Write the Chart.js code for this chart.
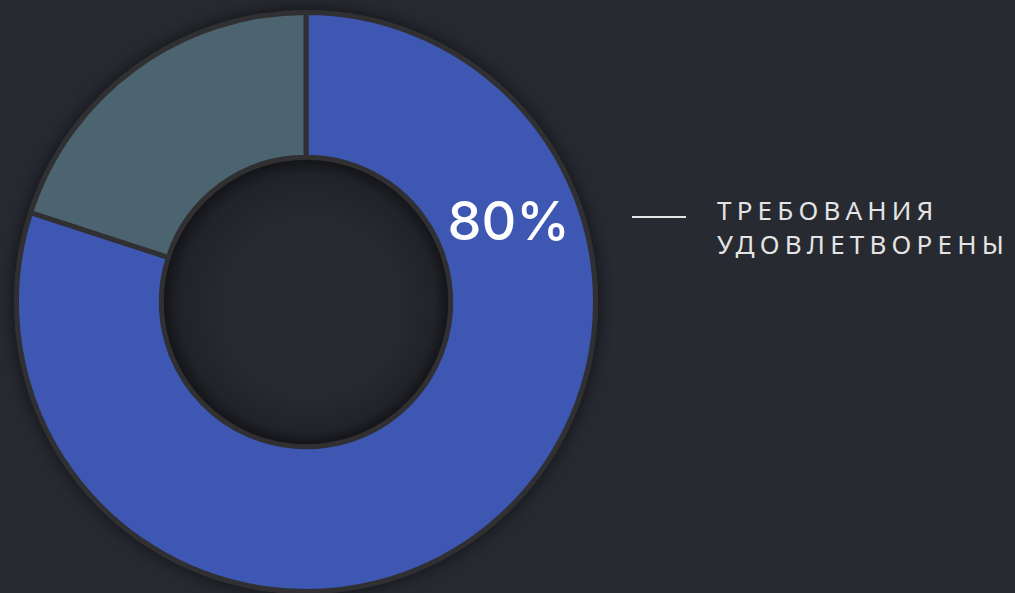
<!DOCTYPE html>
<html>
<head>
<meta charset="utf-8">
<script src="https://cdn.jsdelivr.net/npm/chart.js@4"></script>
<style>
  html, body { margin: 0; padding: 0; background: #272a31; width: 1015px; height: 593px; overflow: hidden; }
  #wrap { position: absolute; left: 0; top: 0; width: 612px; height: 604px; }
  #legend { position: absolute; left: 632px; top: 193px; color: #e4e4e4; font-family: "Noto Sans", sans-serif;
            font-size: 26px; letter-spacing: 5.2px; line-height: 34px; }
  #legend .line { position: absolute; left: 0; top: 23px; width: 54px; height: 2px; background: #e4e4e4; }
  #legend .txt { position: absolute; left: 85px; top: 0; white-space: nowrap; }
</style>
</head>
<body>
<div id="wrap"><canvas id="chart"></canvas></div>
<div id="legend"><div class="line"></div><div class="txt">ТРЕБОВАНИЯ<br>УДОВЛЕТВОРЕНЫ</div></div>
<script>
// значения
const labels = ['Требования удовлетворены', 'Остальное'];
const values = [80, 20];
const colors = ['#3d57b3', '#4b6470'];
const mainLabel = '80%';

const decor = {
  id: 'decor',
  beforeDatasetsDraw(chart) {
    const arc = chart.getDatasetMeta(0).data[0];
    if (!arc) return;
    const { x, y, outerRadius } = arc;
    const ctx = chart.ctx;
    ctx.save();
    ctx.shadowColor = 'rgba(0,0,0,0.6)';
    ctx.shadowBlur = 18;
    ctx.fillStyle = '#303032';
    ctx.beginPath();
    ctx.arc(x, y, outerRadius + 2.5, 0, Math.PI * 2);
    ctx.fill();
    ctx.restore();
  },
  afterDatasetsDraw(chart) {
    const arc = chart.getDatasetMeta(0).data[0];
    if (!arc) return;
    const { x, y, innerRadius, outerRadius } = arc;
    const ctx = chart.ctx;
    ctx.save();
    // тень внутри отверстия
    const r = innerRadius - 2.5;
    const g = ctx.createRadialGradient(x + 6, y + 6, r * 0.6, x, y, r);
    g.addColorStop(0, 'rgba(39,42,49,1)');
    g.addColorStop(0.75, 'rgba(33,35,41,1)');
    g.addColorStop(1, 'rgba(20,21,25,1)');
    ctx.fillStyle = g;
    ctx.beginPath();
    ctx.arc(x, y, r, 0, Math.PI * 2);
    ctx.fill();
    // подпись
    const a = (69 - 90) * Math.PI / 180;
    const rm = (innerRadius + outerRadius) / 2;
    ctx.fillStyle = '#ffffff';
    ctx.font = '500 54px Inter, "Noto Sans", sans-serif';
    ctx.textAlign = 'center';
    ctx.textBaseline = 'middle';
    ctx.fillText(mainLabel, x + rm * Math.cos(a), y + rm * Math.sin(a));
    ctx.restore();
  }
};

new Chart(document.getElementById('chart'), {
  type: 'doughnut',
  data: {
    labels,
    datasets: [{
      data: values,
      backgroundColor: colors,
      borderColor: '#303032',
      borderWidth: 5,
      hoverOffset: 0,
    }],
  },
  options: {
    responsive: true,
    maintainAspectRatio: false,
    animation: false,
    cutout: '50%',
    layout: { padding: { left: 14, top: 10, right: 14, bottom: 10 } },
    plugins: { legend: { display: false }, tooltip: { enabled: false } },
  },
  plugins: [decor],
});
</script>
</body>
</html>
